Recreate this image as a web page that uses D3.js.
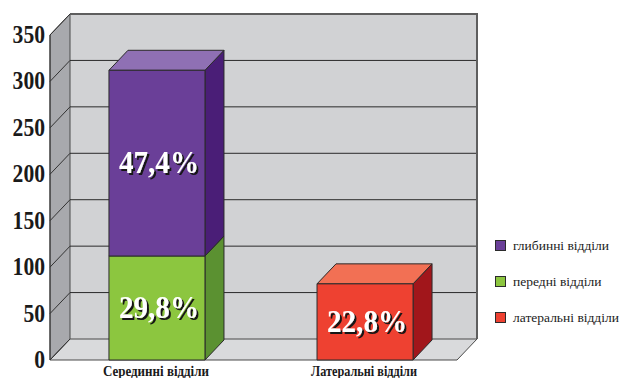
<!DOCTYPE html>
<html>
<head>
<meta charset="utf-8">
<script src="https://cdn.jsdelivr.net/npm/d3@7"></script>
</head>
<body style="margin:0">
<svg id="chart" width="621" height="378" style="display:block"></svg>
<script>
// Categories along the x axis
const categories = ["Серединні відділи", "Латеральні відділи"];

// Series (stack order bottom to top) and their values per category
const seriesNames = ["передні відділи", "глибинні відділи", "латеральні відділи"];
const frontValues = [112, 0];
const deepValues = [200, 0];
const lateralValues = [0, 82];

// Share labels written on each segment, by series, per category
const frontLabels = ["29,8%", ""];
const deepLabels = ["47,4%", ""];
const lateralLabels = ["", "22,8%"];

// Y axis ticks
const yTicks = [0, 50, 100, 150, 200, 250, 300, 350];

// Legend order (top to bottom)
const legendOrder = ["глибинні відділи", "передні відділи", "латеральні відділи"];

const colors = {
  "передні відділи":   { front: "#8cc63f", side: "#5b9131", top: "#a9d66b" },
  "глибинні відділи":  { front: "#6a3f98", side: "#4a1e77", top: "#8f70b4" },
  "латеральні відділи": { front: "#ee4131", side: "#a1161b", top: "#f27054" }
};

const SERIF = '"Liberation Serif"';

const valuesBySeries = {
  "передні відділи": frontValues,
  "глибинні відділи": deepValues,
  "латеральні відділи": lateralValues
};
const labelsBySeries = {
  "передні відділи": frontLabels,
  "глибинні відділи": deepLabels,
  "латеральні відділи": lateralLabels
};

const rows = categories.map((c, i) => {
  const r = { category: c };
  seriesNames.forEach(s => { r[s] = valuesBySeries[s][i]; });
  return r;
});

const stacked = d3.stack().keys(seriesNames)(rows);

const svg = d3.select("#chart");

// Drop shadow used by the share labels
const defs = svg.append("defs");
const shadow = defs.append("filter").attr("id", "labelShadow")
  .attr("x", "-10%").attr("y", "-20%").attr("width", "130%").attr("height", "150%");
shadow.append("feOffset").attr("in", "SourceAlpha").attr("dx", 2).attr("dy", 2).attr("result", "off");
shadow.append("feFlood").attr("flood-color", "#151515").attr("result", "col");
shadow.append("feComposite").attr("in", "col").attr("in2", "off").attr("operator", "in").attr("result", "sh");
const merge = shadow.append("feMerge");
merge.append("feMergeNode").attr("in", "sh");
merge.append("feMergeNode").attr("in", "SourceGraphic");

// Front plane geometry and 3D depth offsets
const plotLeft = 50, plotRight = 457;
const wallDx = 20, wallDy = -21;
const barDx = 19, barDy = -20;

const y = d3.scaleLinear().domain([0, 350]).range([360, 35]);
const x = d3.scaleBand().domain(categories).range([53, 469])
  .paddingInner(0.5385).paddingOuter(0.269);

const pts = arr => arr.map(p => p.join(",")).join(" ");
const y0 = y(0), yMax = y(350);

// Walls and floor
const walls = svg.append("g");
walls.append("polygon")
  .attr("points", pts([[plotLeft + wallDx, yMax + wallDy], [plotRight + wallDx, yMax + wallDy],
                       [plotRight + wallDx, y0 + wallDy], [plotLeft + wallDx, y0 + wallDy]]))
  .attr("fill", "#d1d2d4");
walls.append("polygon")
  .attr("points", pts([[plotLeft, yMax], [plotLeft + wallDx, yMax + wallDy],
                       [plotLeft + wallDx, y0 + wallDy], [plotLeft, y0]]))
  .attr("fill", "#a8a9ad").attr("stroke", "#4a4a4a").attr("stroke-width", 1);
walls.append("polygon")
  .attr("points", pts([[plotLeft, y0], [plotLeft + wallDx, y0 + wallDy],
                       [plotRight + wallDx, y0 + wallDy], [plotRight, y0]]))
  .attr("fill", "#d9dadc").attr("stroke", "#4a4a4a").attr("stroke-width", 1);

// Gridlines: diagonal on the side wall, horizontal on the back wall
const grid = svg.append("g");
yTicks.forEach(t => {
  grid.append("line")
    .attr("x1", plotLeft).attr("y1", y(t))
    .attr("x2", plotLeft + wallDx).attr("y2", y(t) + wallDy)
    .attr("stroke", "#333").attr("stroke-width", 1);
  if (t > 0 && t < 350) {
    grid.append("line")
      .attr("x1", plotLeft + wallDx).attr("y1", y(t) + wallDy)
      .attr("x2", plotRight + wallDx).attr("y2", y(t) + wallDy)
      .attr("stroke", "#2a2a2a").attr("stroke-width", 1);
  }
});
// Back wall top and right edges
grid.append("polyline")
  .attr("points", pts([[plotLeft + wallDx, yMax + wallDy], [plotRight + wallDx, yMax + wallDy],
                       [plotRight + wallDx, y0 + wallDy]]))
  .attr("fill", "none").attr("stroke", "#5e5e5e").attr("stroke-width", 2);
grid.append("line")
  .attr("x1", plotLeft).attr("y1", yMax).attr("x2", plotLeft).attr("y2", y0)
  .attr("stroke", "#333").attr("stroke-width", 1);

// Y axis labels
svg.append("g").selectAll("text").data(yTicks).join("text")
  .attr("x", 45).attr("y", d => y(d) + 8)
  .attr("text-anchor", "end")
  .style("font-family", SERIF).style("font-weight", "bold").style("font-size", "25px")
  .attr("fill", "#1a1a1a")
  .attr("textLength", d => String(d).length * 10.8).attr("lengthAdjust", "spacingAndGlyphs")
  .text(d => d);

// Bars: front face, side face and top for each stacked segment
const bars = svg.append("g");
stacked.forEach(layer => {
  const key = layer.key;
  const col = colors[key];
  layer.forEach((seg, i) => {
    if (seg[1] - seg[0] <= 0) return;
    const cat = categories[i];
    const x0 = x(cat), x1 = x(cat) + x.bandwidth();
    const yb = y(seg[0]), yt = y(seg[1]);
    const g = bars.append("g").attr("stroke", "#2b2b2b").attr("stroke-width", 1)
      .attr("stroke-linejoin", "round");
    g.append("polygon")
      .attr("points", pts([[x1, yb], [x1 + barDx, yb + barDy], [x1 + barDx, yt + barDy], [x1, yt]]))
      .attr("fill", col.side);
    g.append("polygon")
      .attr("points", pts([[x0, yt], [x0 + barDx, yt + barDy], [x1 + barDx, yt + barDy], [x1, yt]]))
      .attr("fill", col.top);
    g.append("rect")
      .attr("x", x0).attr("y", yt).attr("width", x1 - x0).attr("height", yb - yt)
      .attr("fill", col.front);
  });
});

// Share labels on the segments, white with a dark drop shadow
const labels = svg.append("g");
stacked.forEach(layer => {
  layer.forEach((seg, i) => {
    const txt = labelsBySeries[layer.key][i];
    if (!txt || seg[1] - seg[0] <= 0) return;
    const cat = categories[i];
    const cx = x(cat) + x.bandwidth() / 2 + 2;
    const cy = (y(seg[0]) + y(seg[1])) / 2 + 10;
    labels.append("text")
      .attr("x", cx).attr("y", cy)
      .attr("text-anchor", "middle")
      .style("font-family", SERIF).style("font-weight", "bold").style("font-size", "32px")
      .attr("fill", "#ffffff")
      .attr("filter", "url(#labelShadow)")
      .attr("textLength", 80).attr("lengthAdjust", "spacingAndGlyphs")
      .text(txt);
  });
});

// Category labels
svg.append("g").selectAll("text").data(categories).join("text")
  .attr("x", d => x(d) + x.bandwidth() / 2 - 1)
  .attr("y", 376)
  .attr("text-anchor", "middle")
  .style("font-family", SERIF).style("font-weight", "bold").style("font-size", "14px")
  .attr("fill", "#1a1a1a")
  .attr("textLength", 106).attr("lengthAdjust", "spacingAndGlyphs")
  .text(d => d);

// Legend
const legend = svg.append("g");
legendOrder.forEach((name, i) => {
  const ly = 246 + i * 36;
  legend.append("rect")
    .attr("x", 495.5).attr("y", ly - 5.5).attr("width", 10).attr("height", 10)
    .attr("fill", colors[name].front).attr("stroke", "#2b2b2b").attr("stroke-width", 1);
  legend.append("text")
    .attr("x", 513).attr("y", ly + 4)
    .style("font-family", SERIF).style("font-size", "13.5px")
    .attr("fill", "#222")
    .text(name);
});
</script>
</body>
</html>
